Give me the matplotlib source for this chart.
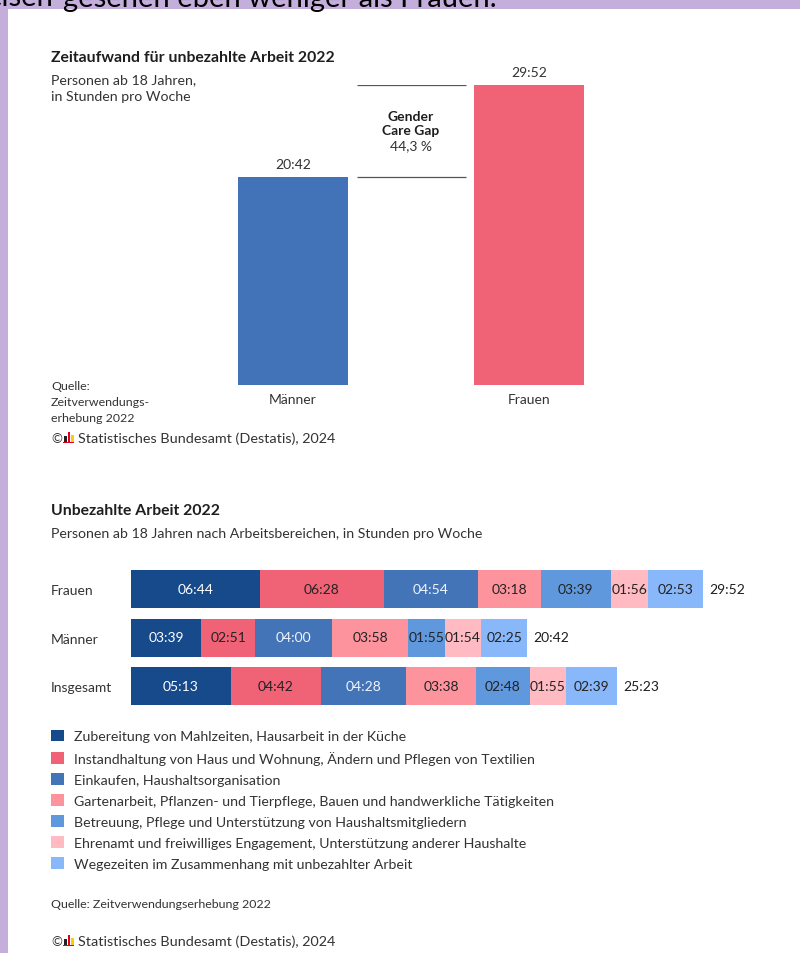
import matplotlib
matplotlib.use("Agg")
import matplotlib.pyplot as plt
from matplotlib.patches import Rectangle, Patch
import numpy as np

plt.rcParams["font.family"] = ["Lato", "DejaVu Sans"]

# top chart
top_categories = ["Männer", "Frauen"]
top_times = ["20:42", "29:52"]
top_colors = ["#4272B7", "#F06275"]

# bottom chart
row_labels = ["Frauen", "Männer", "Insgesamt"]
frauen_times = ["06:44", "06:28", "04:54", "03:18", "03:39", "01:56", "02:53"]
maenner_times = ["03:39", "02:51", "04:00", "03:58", "01:55", "01:54", "02:25"]
insgesamt_times = ["05:13", "04:42", "04:28", "03:38", "02:48", "01:55", "02:39"]
total_times = ["29:52", "20:42", "25:23"]
area_labels = [
    "Zubereitung von Mahlzeiten, Hausarbeit in der Küche",
    "Instandhaltung von Haus und Wohnung, Ändern und Pflegen von Textilien",
    "Einkaufen, Haushaltsorganisation",
    "Gartenarbeit, Pflanzen- und Tierpflege, Bauen und handwerkliche Tätigkeiten",
    "Betreuung, Pflege und Unterstützung von Haushaltsmitgliedern",
    "Ehrenamt und freiwilliges Engagement, Unterstützung anderer Haushalte",
    "Wegezeiten im Zusammenhang mit unbezahlter Arbeit",
]
area_colors = ["#174A8B", "#F06275", "#4374B8", "#FD939C", "#5F98DC", "#FFBAC2", "#88B7FA"]
area_text_colors = ["white", "#222222", "#F0F4FA", "#222222", "#222222", "#222222", "#222222"]

W, H = 800, 954
TXT = "#333333"
DARK = "#1E1E1E"


def to_hours(s):
    h, m = s.split(":")
    return int(h) + int(m) / 60.0


def fx(x):
    return x / W


def fy(y):
    return 1 - y / H


fig = plt.figure(figsize=(W / 100, H / 100), dpi=100, facecolor="#C4AEDC")
fig.patches.append(Rectangle((fx(8), 0), 1 - fx(8), fy(10), transform=fig.transFigure,
                             facecolor="white", edgecolor="none", zorder=-5))

# cut-off sentence from the page above
fig.text(fx(54), fy(6.5), "eisen", ha="right", va="baseline", fontsize=21, color="black")
fig.text(fx(63), fy(6.5), "gesehen eben weniger als Frauen.", ha="left", va="baseline",
         fontsize=21, color="black")

# ---------- top chart ----------
top_vals = np.array([to_hours(t) for t in top_times])
bar_w = 110 / 236
ax1 = fig.add_axes([fx(175), fy(386), 472 / W, 300 / H])
ax1.patch.set_visible(False)
ax1.bar(range(2), top_vals, width=bar_w, color=top_colors)
ax1.set_xlim(-0.5, 1.5)
ax1.set_ylim(0, top_vals.max())
for s in ax1.spines.values():
    s.set_visible(False)
ax1.set_yticks([])
ax1.set_xticks(range(2), top_categories)
ax1.tick_params(axis="x", length=0, pad=6, labelsize=10, labelcolor=TXT)
for i, (v, t) in enumerate(zip(top_vals, top_times)):
    ax1.annotate(t, (i, v), xytext=(0, 5), textcoords="offset points", ha="center",
                 va="bottom", fontsize=10, color=TXT, annotation_clip=False)

# gender care gap
x0 = bar_w / 2 + 0.038
x1 = 1 - bar_w / 2 - 0.034
ax1.hlines(top_vals, x0, x1, color="#555555", lw=0.9)
gap = (top_vals[1] / top_vals[0] - 1) * 100
mid = top_vals.mean()
ax1.annotate("Gender\nCare Gap", (0.5, mid), xytext=(0, 6), textcoords="offset points",
             ha="center", va="center", fontsize=10, fontweight="bold", color=DARK,
             linespacing=1.2)
ax1.annotate(f"{gap:.1f} %".replace(".", ","), (0.5, mid), xytext=(0, -10),
             textcoords="offset points", ha="center", va="center", fontsize=10, color=TXT)

fig.text(fx(51), fy(58), "Zeitaufwand für unbezahlte Arbeit 2022", fontsize=11.3,
         fontweight="bold", color=DARK, va="center")
fig.text(fx(51), fy(74), "Personen ab 18 Jahren,\nin Stunden pro Woche", fontsize=10.2,
         color=TXT, va="top", linespacing=1.5)
fig.text(fx(51), fy(381), "Quelle:\nZeitverwendungs-\nerhebung 2022", fontsize=8.9,
         color=TXT, va="top", linespacing=1.55)


def copyright_line(y):
    fig.text(fx(51), fy(y), "©", fontsize=9.5, color=TXT, va="center")
    # small destatis logo
    for xo, hh, c in [(64, 6, "#222222"), (67.5, 10, "#E2001A"), (71, 7, "#FFCC00")]:
        fig.patches.append(Rectangle((fx(xo), fy(y + 4)), fx(2.6), hh / H,
                                     transform=fig.transFigure, facecolor=c, edgecolor="none"))
    fig.patches.append(Rectangle((fx(63), fy(y + 5)), fx(11), 1.2 / H,
                                 transform=fig.transFigure, facecolor="#E2001A", edgecolor="none"))
    fig.text(fx(78), fy(y), "Statistisches Bundesamt (Destatis), 2024", fontsize=10.4,
             color=TXT, va="center")


copyright_line(439)

# ---------- bottom chart ----------
series = [frauen_times, maenner_times, insgesamt_times]
data = np.array([[to_hours(t) for t in s] for s in series])
scale = 19.15
ax2 = fig.add_axes([fx(131), fy(565.75 + 145.5), 620 / W, 145.5 / H])
ax2.patch.set_visible(False)
ax2.set_xlim(0, 620 / scale)
ax2.set_ylim(2.5, -0.5)
left = np.zeros(len(row_labels))
for j in range(data.shape[1]):
    ax2.barh(range(3), data[:, j], left=left, height=38 / 48.5, color=area_colors[j])
    for i in range(3):
        ax2.text(left[i] + data[i, j] / 2, i, series[i][j], ha="center", va="center",
                 fontsize=10, color=area_text_colors[j])
    left += data[:, j]
for i, t in enumerate(total_times):
    ax2.annotate(t, (left[i], i), xytext=(4.5, 0), textcoords="offset points", ha="left",
                 va="center", fontsize=10, color=DARK)
for s in ax2.spines.values():
    s.set_visible(False)
ax2.set_xticks([])
ax2.set_yticks(range(3), row_labels)
for lbl in ax2.get_yticklabels():
    lbl.set_ha("left")
ax2.tick_params(axis="y", length=0, pad=80 * 0.72, labelsize=10, labelcolor=TXT)

fig.text(fx(51), fy(511), "Unbezahlte Arbeit 2022", fontsize=11.3, fontweight="bold",
         color=DARK, va="center")
fig.text(fx(51), fy(534), "Personen ab 18 Jahren nach Arbeitsbereichen, in Stunden pro Woche",
         fontsize=10.2, color=TXT, va="center")

handles = [Patch(facecolor=c, edgecolor="none") for c in area_colors]
fig.legend(handles, area_labels, loc="upper left", bbox_to_anchor=(fx(51), fy(730.5)),
           frameon=False, fontsize=10.2, handlelength=0.9, handleheight=0.9,
           handletextpad=0.7, labelspacing=0.585, borderaxespad=0, borderpad=0,
           labelcolor=TXT)

fig.text(fx(51), fy(905), "Quelle: Zeitverwendungserhebung 2022", fontsize=8.9, color=TXT,
         va="center")
copyright_line(942)

fig.savefig("out.png", dpi=100, facecolor=fig.get_facecolor())
